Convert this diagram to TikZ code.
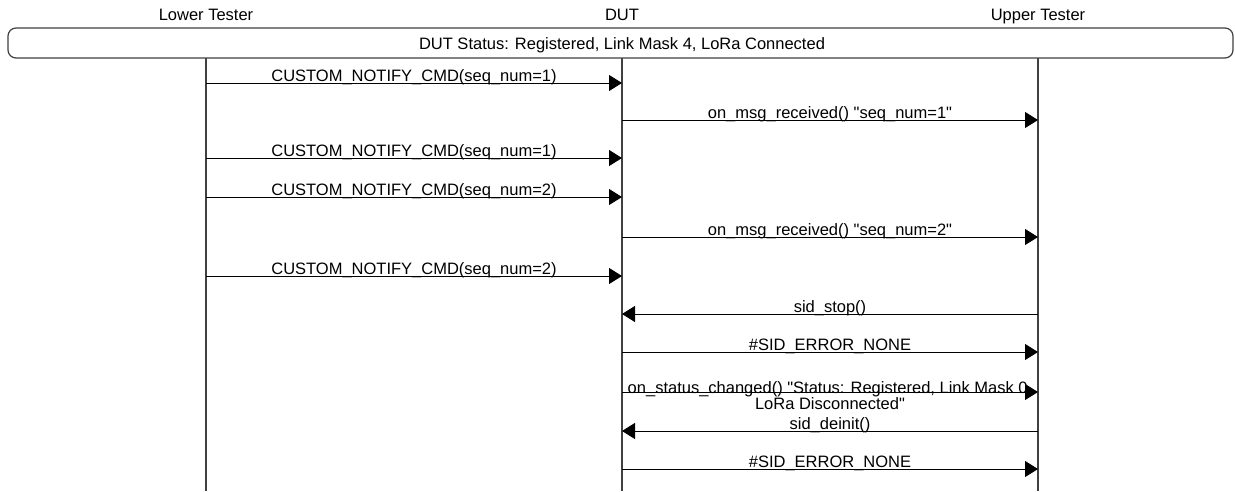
\documentclass[tikz,border=0pt]{standalone}
\usepackage{fontspec}
\setmainfont{Liberation Sans}[Ligatures=TeXOff]
\usetikzlibrary{arrows.meta}
\begin{document}
\begin{tikzpicture}[x=1pt,y=-1pt,
  font=\fontsize{16.5}{14}\selectfont,
  actor/.style={inner sep=0pt, anchor=base, text=black},
  lifeline/.style={draw=black!75, line width=1.3pt},
  statusbox/.style={draw=black!75, line width=1.2pt, rounded corners=8pt},
  msg/.style={draw=black, line width=0.9pt, -{Triangle[length=13pt,width=16pt]}},
  lbl/.style={midway, anchor=base, yshift=1.5pt, inner sep=0pt, text=black},
  lbltwo/.style={midway, anchor=center, inner sep=0pt, align=center, text=black}]
\useasboundingbox (0,0) rectangle (1235,491);
% actors
\node[actor] (lt) at (206,20.5) {Lower Tester};
\node[actor] (dut) at (622,20.5) {DUT};
\node[actor] (ut) at (1038,20.5) {Upper Tester};
% lifeline ends
\coordinate (ltT) at (206,58);
\coordinate (dutT) at (622,58);
\coordinate (utT) at (1038,58);
\coordinate (ltB) at (206,491);
\coordinate (dutB) at (622,491);
\coordinate (utB) at (1038,491);
\draw[lifeline] (ltT) -- (ltB);
\draw[lifeline] (dutT) -- (dutB);
\draw[lifeline] (utT) -- (utB);
% status box
\draw[statusbox, fill=white] (8,28) rectangle (1233,58);
\node[actor] (status) at (622,49.5) {DUT Status: Registered, Link Mask 4, LoRa Connected};
% rows
\coordinate (r1) at (0,83);
\coordinate (r2) at (0,120);
\coordinate (r3) at (0,158);
\coordinate (r4) at (0,197);
\coordinate (r5) at (0,237);
\coordinate (r6) at (0,276);
\coordinate (r7) at (0,314);
\coordinate (r8) at (0,352);
\coordinate (r9) at (0,392);
\coordinate (r10) at (0,431);
\coordinate (r11) at (0,469);
% messages
\draw[msg] (ltT |- r1) -- node[lbl] (l1) {CUSTOM\_NOTIFY\_CMD(seq\_num=1)} (dutT |- r1);
\draw[msg] (dutT |- r2) -- node[lbl] (l2) {on\_msg\_received() "seq\_num=1"} (utT |- r2);
\draw[msg] (ltT |- r3) -- node[lbl] (l3) {CUSTOM\_NOTIFY\_CMD(seq\_num=1)} (dutT |- r3);
\draw[msg] (ltT |- r4) -- node[lbl] (l4) {CUSTOM\_NOTIFY\_CMD(seq\_num=2)} (dutT |- r4);
\draw[msg] (dutT |- r5) -- node[lbl] (l5) {on\_msg\_received() "seq\_num=2"} (utT |- r5);
\draw[msg] (ltT |- r6) -- node[lbl] (l6) {CUSTOM\_NOTIFY\_CMD(seq\_num=2)} (dutT |- r6);
\draw[msg] (utT |- r7) -- node[lbl] (l7) {sid\_stop()} (dutT |- r7);
\draw[msg] (dutT |- r8) -- node[lbl] (l8) {\#SID\_ERROR\_NONE} (utT |- r8);
\draw[msg] (dutT |- r9) -- node[lbltwo, yshift=-3.5pt] (l9) {on\_status\_changed() "Status: Registered, Link Mask 0,\\LoRa Disconnected"} (utT |- r9);
\draw[msg] (utT |- r10) -- node[lbl] (l10) {sid\_deinit()} (dutT |- r10);
\draw[msg] (dutT |- r11) -- node[lbl] (l11) {\#SID\_ERROR\_NONE} (utT |- r11);
\end{tikzpicture}
\end{document}
